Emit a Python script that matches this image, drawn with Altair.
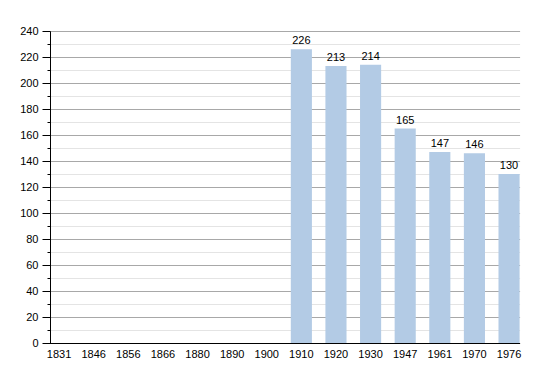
import altair as alt
import pandas as pd

years = ["1831", "1846", "1856", "1866", "1880", "1890", "1900",
         "1910", "1920", "1930", "1947", "1961", "1970", "1976"]
population = [None, None, None, None, None, None, None,
              226, 213, 214, 165, 147, 146, 130]

df = pd.DataFrame({"year": years, "pop": population})

font = "Liberation Sans"

x = alt.X("year:N", sort=years, title=None,
          scale=alt.Scale(paddingInner=0.39, paddingOuter=0, range=[-1.5, 469.6]),
          axis=alt.Axis(labelAngle=0, ticks=False, domainColor="#000000",
                        labelColor="#000000", labelFont=font, labelFontSize=11,
                        labelPadding=5, grid=False, labelOverlap=False))

y = alt.Y("pop:Q", title=None,
          scale=alt.Scale(domain=[0, 240], nice=False),
          axis=alt.Axis(values=list(range(0, 241, 10)),
                        labelExpr="datum.value % 20 === 0 ? datum.label : ''",
                        labelOverlap=False,
                        gridColor={"condition": {"test": "datum.value % 20 === 0", "value": "#a8a8a8"}, "value": "#e4e4e4"},
                        tickSize={"condition": {"test": "datum.value % 20 === 0", "value": 8}, "value": 3},
                        tickColor="#000000", domainColor="#000000",
                        labelColor="#000000", labelFont=font, labelFontSize=11,
                        labelPadding=4))

base = alt.Chart(df).encode(x=x, y=y)
bars = base.mark_bar(color="#b3cbe5")
labels = base.mark_text(baseline="bottom", dy=-3, font=font, fontSize=11,
                        color="#000000").encode(text="pop:Q")

chart = alt.layer(bars, labels).properties(
    width=471, height=312,
    autosize=alt.AutoSizeParams(type="none"),
    padding={"left": 50, "top": 31, "right": 29, "bottom": 30},
).configure_view(stroke=None)

chart.save("out.html", embed_options={"renderer": "svg", "actions": False})
